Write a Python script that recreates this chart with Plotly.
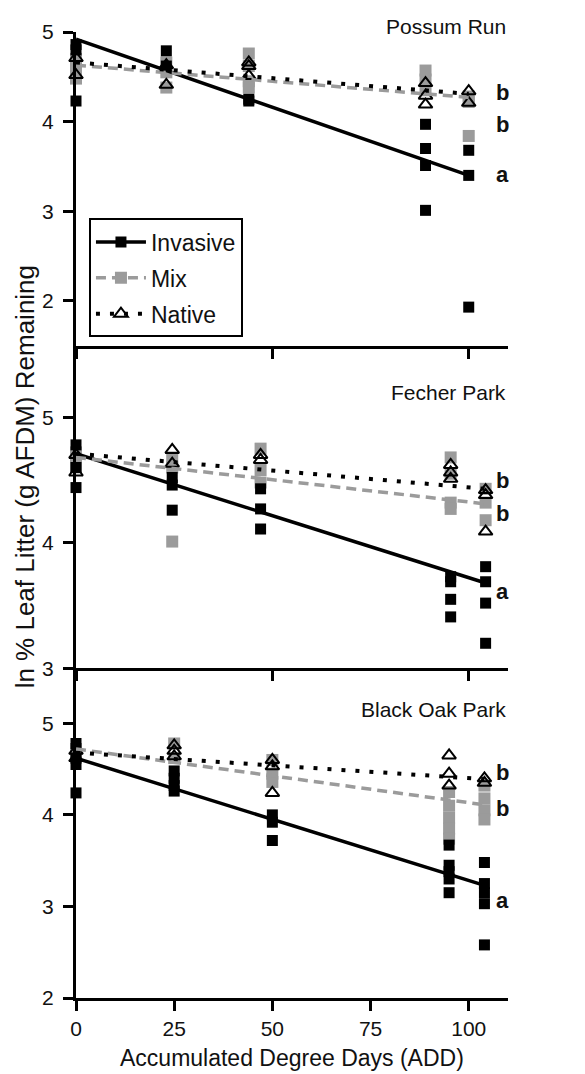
import plotly.graph_objects as go

FONT = "Liberation Sans, Arial, sans-serif"

# ---------------- data ----------------
site_names = ["Possum Run", "Fecher Park", "Black Oak Park"]
treatments = ["Invasive", "Mix", "Native"]

# Possum Run (top panel)
possum_x = [0, 23, 44, 89, 100]
possum_invasive = [[4.86, 4.80, 4.23], [4.79, 4.62], [4.25, 4.23],
                   [3.97, 3.70, 3.51, 3.01], [3.68, 3.40, 1.93]]
possum_mix = [[4.70, 4.60, 4.48], [4.66, 4.55, 4.38], [4.76, 4.62, 4.45, 4.38],
              [4.57, 4.47, 4.35], [4.28, 4.22, 3.84]]
possum_native = [[4.71, 4.52], [4.63, 4.41], [4.66, 4.62, 4.51],
                 [4.43, 4.29, 4.19], [4.34, 4.21]]
possum_fit_start = [4.92, 4.63, 4.66]   # Invasive, Mix, Native at first x
possum_fit_end = [3.40, 4.27, 4.31]     # at last x
possum_letters = ["a", "b", "b"]
possum_letter_y = [3.41, 3.97, 4.32]

# Fecher Park (middle panel)
fecher_x = [0, 24.5, 47, 95.4, 104.3]
fecher_invasive = [[4.78, 4.60, 4.44], [4.52, 4.46, 4.26], [4.43, 4.27, 4.11],
                   [3.73, 3.69, 3.55, 3.41], [3.81, 3.69, 3.52, 3.20]]
fecher_mix = [[4.72, 4.66, 4.60], [4.68, 4.60, 4.01], [4.75, 4.58, 4.48],
              [4.68, 4.55, 4.32, 4.27], [4.43, 4.32, 4.18]]
fecher_native = [[4.70, 4.56], [4.74, 4.63], [4.70, 4.66],
                 [4.62, 4.56, 4.51], [4.42, 4.38, 4.09]]
fecher_fit_start = [4.71, 4.68, 4.71]
fecher_fit_end = [3.68, 4.31, 4.43]
fecher_letters = ["a", "b", "b"]
fecher_letter_y = [3.61, 4.23, 4.50]

# Black Oak Park (bottom panel)
blackoak_x = [0, 25, 50, 95, 104]
blackoak_invasive = [[4.78, 4.62, 4.55, 4.24], [4.48, 4.40, 4.32, 4.26],
                     [4.00, 3.92, 3.72], [3.67, 3.45, 3.38, 3.30, 3.15],
                     [3.48, 3.25, 3.15, 3.03, 2.58]]
blackoak_mix = [[4.72, 4.65], [4.78, 4.62], [4.60, 4.45, 4.36],
                [4.25, 4.10, 3.97, 3.85, 3.74], [4.32, 4.18, 4.05, 3.95]]
blackoak_native = [[4.70, 4.62], [4.76, 4.70, 4.64], [4.60, 4.53, 4.24],
                   [4.65, 4.45, 4.32], [4.40, 4.35]]
blackoak_fit_start = [4.62, 4.72, 4.68]
blackoak_fit_end = [3.23, 4.11, 4.39]
blackoak_letters = ["a", "b", "b"]
blackoak_letter_y = [3.07, 4.07, 4.46]

x_ticks_bottom = [0, 25, 50, 75, 100]
x_ticks_upper = [0, 50, 100]

# ---------------- styles ----------------
GRAY = "#9b9b9b"
marker_style = {
    "Invasive": dict(symbol="square", color="black", size=11),
    "Mix": dict(symbol="square", color=GRAY, size=12),
    "Native": dict(symbol="triangle-up-open", color="black", size=12,
                   line=dict(width=2, color="black")),
}
line_style = {
    "Invasive": dict(color="black", width=3.5),
    "Mix": dict(color=GRAY, width=3.5, dash="10px,6px"),
    "Native": dict(color="black", width=4, dash="4px,10px"),
}

panels = [
    dict(name=site_names[0], x=possum_x,
         vals={"Invasive": possum_invasive, "Mix": possum_mix, "Native": possum_native},
         start=possum_fit_start, end=possum_fit_end,
         letters=possum_letters, letter_y=possum_letter_y,
         xa="x", ya="y", label_y=1.006),
    dict(name=site_names[1], x=fecher_x,
         vals={"Invasive": fecher_invasive, "Mix": fecher_mix, "Native": fecher_native},
         start=fecher_fit_start, end=fecher_fit_end,
         letters=fecher_letters, letter_y=fecher_letter_y,
         xa="x2", ya="y2", label_y=0.627),
    dict(name=site_names[2], x=blackoak_x,
         vals={"Invasive": blackoak_invasive, "Mix": blackoak_mix, "Native": blackoak_native},
         start=blackoak_fit_start, end=blackoak_fit_end,
         letters=blackoak_letters, letter_y=blackoak_letter_y,
         xa="x3", ya="y3", label_y=0.299),
]

fig = go.Figure()
annotations = []

for p in panels:
    # points (Mix behind, then Invasive, then Native)
    for t in ["Mix", "Invasive", "Native"]:
        xs, ys = [], []
        for xv, group in zip(p["x"], p["vals"][t]):
            for v in group:
                xs.append(xv)
                ys.append(v)
        fig.add_trace(go.Scatter(x=xs, y=ys, mode="markers", marker=marker_style[t],
                                 xaxis=p["xa"], yaxis=p["ya"], showlegend=False,
                                 cliponaxis=False, hoverinfo="skip"))
    # regression lines
    for i, t in enumerate(treatments):
        fig.add_trace(go.Scatter(x=[p["x"][0], p["x"][-1]], y=[p["start"][i], p["end"][i]],
                                 mode="lines", line=line_style[t],
                                 xaxis=p["xa"], yaxis=p["ya"], showlegend=False,
                                 cliponaxis=False, hoverinfo="skip"))
    # significance letters
    for lt, ly in zip(p["letters"], p["letter_y"]):
        annotations.append(dict(text="<b>%s</b>" % lt, x=108.7, y=ly, xref=p["xa"],
                                yref=p["ya"], showarrow=False, xanchor="center",
                                yanchor="middle",
                                font=dict(family=FONT, size=22, color="#111")))
    # site label
    annotations.append(dict(text=p["name"], x=1.0, y=p["label_y"], xref="paper",
                            yref="paper", showarrow=False, xanchor="right",
                            yanchor="middle", font=dict(family=FONT, size=21, color="#111")))

# legend entries
for i, t in enumerate(treatments):
    lm = dict(marker_style[t])
    fig.add_trace(go.Scatter(x=[None], y=[None], mode="lines+markers", name=t,
                             marker=lm, line=line_style[t], xaxis="x", yaxis="y",
                             legendgroup=t, showlegend=True))

# axis titles
annotations.append(dict(text="Accumulated Degree Days (ADD)", x=0.5, y=-0.062,
                        xref="paper", yref="paper", showarrow=False,
                        xanchor="center", yanchor="middle",
                        font=dict(family=FONT, size=23, color="#111")))
annotations.append(dict(text="ln % Leaf Litter (g AFDM) Remaining", x=-0.118, y=0.539,
                        xref="paper", yref="paper", showarrow=False, textangle=-90,
                        xanchor="center", yanchor="middle",
                        font=dict(family=FONT, size=26, color="#111")))

common_axis = dict(showline=True, linewidth=3, linecolor="black", showgrid=False,
                   zeroline=False, ticks="outside", ticklen=10, tickwidth=3,
                   tickcolor="black", tickfont=dict(family=FONT, size=21, color="#111"))

dom_bottom = [0.0, 0.3412]
dom_middle = [0.3412, 0.6753]
dom_top = [0.6753, 1.0]

fig.update_layout(
    width=577, height=1066,
    margin=dict(l=68, r=77, t=20, b=76),
    plot_bgcolor="white", paper_bgcolor="white",
    font=dict(family=FONT, color="#111"),
    xaxis=dict(common_axis, domain=[0, 1], anchor="y", range=[0, 110],
               tickvals=x_ticks_upper, showticklabels=False),
    yaxis=dict(common_axis, domain=dom_top, anchor="x", range=[1.5, 5.0],
               tickvals=[2, 3, 4, 5], ticklabelstandoff=5),
    xaxis2=dict(common_axis, domain=[0, 1], anchor="y2", range=[0, 110],
                tickvals=x_ticks_upper, showticklabels=False),
    yaxis2=dict(common_axis, domain=dom_middle, anchor="x2", range=[3.0, 5.57],
                tickvals=[3, 4, 5], ticklabelstandoff=5),
    xaxis3=dict(common_axis, domain=[0, 1], anchor="y3", range=[0, 110],
                tickvals=x_ticks_bottom),
    yaxis3=dict(common_axis, domain=dom_bottom, anchor="x3", range=[2.0, 5.6],
                tickvals=[2, 3, 4, 5], ticklabelstandoff=5),
    legend=dict(x=0.03, y=0.807, xanchor="left", yanchor="top",
                bgcolor="white", bordercolor="black", borderwidth=2,
                font=dict(family=FONT, size=23, color="#111"),
                tracegroupgap=3, itemwidth=50),
    annotations=annotations,
    showlegend=True,
)

fig.write_html("out.html")
